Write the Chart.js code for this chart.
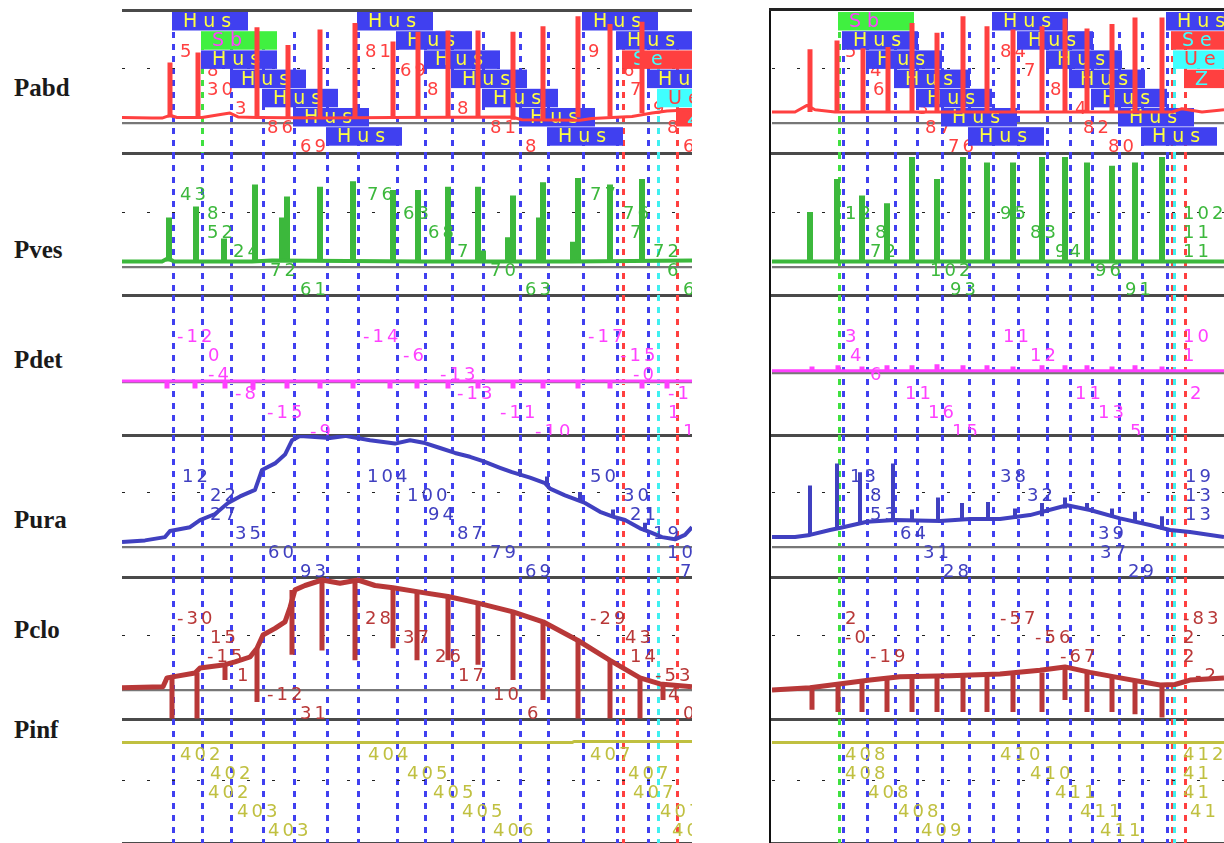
<!DOCTYPE html>
<html><head><meta charset="utf-8">
<script src="https://cdn.jsdelivr.net/npm/chart.js@4.4.1/dist/chart.umd.min.js"></script>
<style>
html,body{margin:0;padding:0;background:#fff}
body{width:1224px;height:843px;position:relative;overflow:hidden}
canvas{position:absolute;z-index:2}
.nm{position:absolute;left:14px;font:bold 25px "Liberation Serif","DejaVu Serif",serif;color:#1a1a1a;line-height:30px;z-index:3}
.hl{position:absolute;background:#4a4a4a;z-index:1}
</style></head><body>
<script>
// ================= DATA =================
const channelNames = ["Pabd","Pves","Pdet","Pura","Pclo","Pinf"];

// ---- event marks (time in samples) ----
const evL_T    = [51,80,80,109,141,172,205,236,275,303,330,361,398,426,461,495,501,526,536,555];
const evL_Type = ["Hus","Sb","Hus","Hus","Hus","Hus","Hus","Hus","Hus","Hus","Hus","Hus","Hus","Hus","Hus","Hus","Se","Hus","Ue","Z"];
const evR_T    = [67,71,95,123,145,170,197,221,246,275,298,320,347,370,395,400,402,413];
const evR_Type = ["Sb","Hus","Hus","Hus","Hus","Hus","Hus","Hus","Hus","Hus","Hus","Hus","Hus","Hus","Hus","Se","Ue","Z"];

// ---- LEFT record ----
const pabdL_t  = [0,30,40,48,55,80,100,108,116,135,200,270,390,400,458,470,490,510,530,545,570];
const pabdL_v  = [5,4.5,4.5,7,5,5,8,9,5.5,5,4.5,5,5.5,3,2.5,4,5,6,9,11,12];
const pabdL_sT = [48,76,135,166,198,233,271,296,326,356,391,421,456,488,520];
const pabdL_sLo= [5,5,5,5,5,5,5,5,5,5,3,3,5,6,9];
const pabdL_sHi= [55,64,87,71,85,91,74,83,84,84,83,88,97,90,92];
const pabdL_lab= [["5",58,0],["8",85,1],["30",85,2],["3",113,3],["86",145,4],["69",178,5],
                  ["81",243,0],["69",278,1],["8",305,2],["8",335,3],["81",368,4],["8",403,5],
                  ["9",466,0],["6",501,1],["7",508,2],["9",531,3],["8",545,4],["6",561,5]];

const pvesL_t  = [0,40,46,52,130,150,300,450,570];
const pvesL_v  = [5,5,8,5,5,6,5,5,6];
const pvesL_sT = [47,74,102,133,165,198,231,271,296,326,356,391,421,456,488,520];
const pvesL_sLo= [5,5,5,5,5,5,5,5,5,5,5,5,5,5,5,5];
const pvesL_sHi= [45,55,26,75,64,73,78,70,70,73,73,65,77,81,75,80];
const pvesL_shT= [161,360,387,418,452];
const pvesL_shHi=[45,15,27,45,23];
const pvesL_lab= [["43",58,0],["8",85,1],["52",85,2],["24",111,3],["72",148,4],["61",178,5],
                  ["76",245,0],["63",281,1],["68",306,2],["7",335,3],["70",368,4],["63",403,5],
                  ["77",468,0],["76",501,1],["7",508,2],["72",531,3],["6",545,4],["6",561,5]];

const pdetL_t  = [0,570];
const pdetL_v  = [1,1];
const pdetL_sT = [45,73,103,131,165,198,231,268,295,326,356,391,421,456,488,520,545];
const pdetL_sLo= [-6,-6,-6,-7,-6,-6,-6,-6,-6,-6,-6,-6,-6,-6,-6,-6,-6];
const pdetL_sHi= [1,1,1,1,1,1,1,1,1,1,1,1,1,1,1,1,1];
const pdetL_lab= [["-12",55,0],["0",86,1],["-4",86,2],["-8",113,3],["-15",145,4],["-9",188,5],
                  ["-14",241,0],["-6",281,1],["-13",318,2],["-13",335,3],["-11",378,4],["-10",413,5],
                  ["-17",466,0],["-15",498,1],["-0",511,2],["-12",546,3],["1",546,4],["1",561,5]];

const puraL_t  = [0,23,43,48,68,78,93,106,118,133,140,153,163,170,178,208,223,248,273,288,303,318,333,348,361,378,390,408,423,428,443,453,463,478,493,503,518,528,540,553,563,570];
const puraL_v  = [4.5,6,9,14.5,18,24.5,30,40,46,52,70,76,84,97,101,99,101,97,94,97,94.5,90,85.5,82,78,72,68,63,58,53,47,43.6,40,32,27,24.5,17,13.6,9,7,11,18];
const puraL_sT = [398,425,458,491,523];
const puraL_sLo= [66,58,42,27,14];
const puraL_sHi= [71,64,50,34,22];
const puraL_lab= [["12",60,0],["22",88,1],["27",88,2],["35",113,3],["60",146,4],["93",178,5],
                  ["104",245,0],["100",285,1],["94",306,2],["87",335,3],["79",368,4],["69",403,5],
                  ["50",468,0],["30",501,1],["21",508,2],["19",531,3],["10",545,4],["7",558,5]];

const pcloL_t  = [0,41,45,73,78,103,113,128,135,141,153,163,168,173,183,200,218,236,253,271,298,326,356,391,421,456,488,518,538,570];
const pcloL_v  = [2,3,11,15.5,20,23,25.5,30,38,50,56,62,75,91,95,100,97,100,95,93,89,85,79,71,62,45,27,11,5.5,3];
const pcloL_sT = [50,75,103,135,170,200,233,271,295,326,356,391,421,456,488,518,541];
const pcloL_sLo= [-26,-26,9,-11,32,36,27,38,27,27,23,9,-9,-26,-26,-26,-9];
const pcloL_sHi= [11,16,23,38,91,100,100,93,89,85,79,71,62,45,27,11,5];
const pcloL_lab= [["-30",55,0],["15",88,1],["-15",85,2],["1",115,3],["-12",145,4],["31",178,5],
                  ["28",243,0],["37",281,1],["26",313,2],["17",336,3],["10",371,4],["6",405,5],
                  ["-29",468,0],["43",503,1],["14",508,2],["-53",533,3],["4",546,4],["0",561,5]];

const pinfL_t  = [0,450,452,570];
const pinfL_v  = [34,34,35,35];
const pinfL_lab= [["402",58,0],["402",88,1],["402",86,2],["403",115,3],["403",146,4],
                  ["404",246,0],["405",285,1],["405",311,2],["405",340,3],["406",371,4],
                  ["407",468,0],["407",506,1],["407",511,2],["407",538,3],["40",550,4]];

// ---- RIGHT record ----
const pabdR_t  = [0,23,35,43,63,400,410,430,452];
const pabdR_v  = [10,10,16,12,10,10,13,10,12];
const pabdR_sT = [38,65,91,116,140,165,191,215,241,270,293,315,340,363,390];
const pabdR_sLo= [10,10,10,10,10,10,10,10,10,10,10,10,10,10,10];
const pabdR_sHi= [67,75,68,69,91,82,97,88,85,88,95,86,90,96,96];
const pabdR_lab= [["5",73,0],["4",98,1],["6",101,2],["3",145,3],["87",153,4],["76",176,5],
                  ["84",228,0],["7",252,1],["8",278,2],["4",303,3],["82",311,4],["80",336,5]];

const pvesR_t  = [0,452];
const pvesR_v  = [5,5];
const pvesR_sT = [38,65,90,115,140,165,191,215,241,270,293,315,340,363,390];
const pvesR_sLo= [5,5,5,5,5,5,5,5,5,5,5,5,5,5,5];
const pvesR_sHi= [50,80,65,58,100,80,100,95,95,100,100,95,92,95,100];
const pvesR_lab= [["12",73,1],["8",103,2],["72",98,3],["102",158,4],["93",178,5],
                  ["95",228,1],["83",258,2],["94",283,3],["96",323,4],["91",353,5],
                  ["102",411,1],["11",411,2],["11",411,3]];

const pdetR_t  = [0,452];
const pdetR_v  = [2,2];
const pdetR_sT = [40,66,90,115,140,165,191,215,241,270,293,315,340,363,390];
const pdetR_sLo= [2,2,2,2,2,2,2,2,2,2,2,2,2,2,2];
const pdetR_sHi= [6,7,6,7,7,8,7,7,6,7,7,7,6,7,6];
const pdetR_lab= [["3",73,0],["4",78,1],["6",98,2],["11",133,3],["16",156,4],["15",180,5],
                  ["11",231,0],["12",258,1],["11",303,3],["13",326,4],["5",358,5],
                  ["10",411,0],["1",411,1],["2",418,3]];

const puraR_t  = [0,23,38,58,71,95,123,168,198,228,258,295,318,348,378,398,418,452];
const puraR_v  = [9,9,11,15.5,18,23,24.5,23.6,25.5,25.5,29,38,33.6,26,20,15.5,13.6,9];
const puraR_sT = [38,65,88,121,140,166,190,216,243,270,293,315,340,363,390];
const puraR_sLo= [11,17,22,24.5,24,23.6,25,25,25.5,28,35,33,27,22,16];
const puraR_sHi= [56,76,68,76,34,45,40,41,35,40,45,40,35,32,28];
const puraR_lab= [["13",78,0],["8",98,1],["53",98,2],["64",128,3],["31",151,4],["28",171,5],
                  ["38",228,0],["32",255,1],["39",326,3],["37",328,4],["29",356,5],
                  ["19",413,0],["13",413,1],["13",413,2]];

const pcloR_t  = [0,38,71,98,128,178,228,268,293,318,348,388,403,418,452];
const pcloR_v  = [0,2,6,9,12,13,14.5,18,21,16,11,4.5,5,9,11];
const pcloR_sT = [40,66,90,115,140,165,191,215,241,270,293,315,340,363,390];
const pcloR_sLo= [-18,-20,-20,-20,-20,-20,-20,-20,-20,-20,-9,-20,-20,-22,-25];
const pcloR_sHi= [2,5,9,10,12,12,13,13,14,16,21,17,12,9,4.5];
const pcloR_lab= [["2",73,0],["-0",73,1],["-19",98,2],["-57",228,0],["-56",263,1],["-67",288,2],
                  ["-83",411,0],["2",411,1],["2",411,2],["-2",423,3]];

const pinfR_t  = [0,452];
const pinfR_v  = [34,34];
const pinfR_lab= [["408",73,0],["408",73,1],["408",96,2],["408",126,3],["409",149,4],
                  ["410",228,0],["410",258,1],["411",283,2],["411",308,3],["411",328,4],
                  ["412",411,0],["41",411,1],["41",411,2],["41",418,3]];

// ================= LAYOUT / STYLE =================
const K = 1.1;                       // px per unit
const SEP = [10,153,295,435,577,719,843];
const NAME_Y = [88,250,360,520,630,730];
const STY = [
  {color:'#ff4040', tw:3, sw:5, ref:50,  zero:true,  boxes:true, row0:42},
  {color:'#3cb83c', tw:4, sw:6, ref:50,  zero:true,  row0:42},
  {color:'#ff40ff', tw:3, sw:5, ref:null,zero:true,  row0:42},
  {color:'#4040c0', tw:4, sw:4, ref:50,  zero:true,  row0:42},
  {color:'#b83838', tw:5, sw:5, ref:50,  zero:true,  row0:42},
  {color:'#c0c040', tw:3, sw:3, ref:0,   zero:false, row0:36}
];
const EVCOL = {Hus:'#4040f0', Sb:'#40e040', Se:'#ff4040', Ue:'#40f0f0', Z:'#ff4040'};
const BOX = {Hus:['#4040f0','#ffff40'], Sb:['#40f040','#ff40ff'], Se:['#ff4040','#40ffff'], Ue:['#40ffff','#ff4040'], Z:['#ff4040','#40ffff']};

const panels = [
  {x0:122, x1:692, tmax:570, evT:evL_T, evType:evL_Type, zeroPx:[123,267,382,547,690,780],
   ch:[[pabdL_t,pabdL_v,pabdL_sT,pabdL_sLo,pabdL_sHi,pabdL_lab],
       [pvesL_t,pvesL_v,pvesL_sT,pvesL_sLo,pvesL_sHi,pvesL_lab,pvesL_shT,pvesL_shHi],
       [pdetL_t,pdetL_v,pdetL_sT,pdetL_sLo,pdetL_sHi,pdetL_lab],
       [puraL_t,puraL_v,puraL_sT,puraL_sLo,puraL_sHi,puraL_lab],
       [pcloL_t,pcloL_v,pcloL_sT,pcloL_sLo,pcloL_sHi,pcloL_lab],
       [pinfL_t,pinfL_v,null,null,null,pinfL_lab]]},
  {x0:772, x1:1224, tmax:452, evT:evR_T, evType:evR_Type, zeroPx:[123,267,373,547,690,780],
   ch:[[pabdR_t,pabdR_v,pabdR_sT,pabdR_sLo,pabdR_sHi,pabdR_lab],
       [pvesR_t,pvesR_v,pvesR_sT,pvesR_sLo,pvesR_sHi,pvesR_lab],
       [pdetR_t,pdetR_v,pdetR_sT,pdetR_sLo,pdetR_sHi,pdetR_lab],
       [puraR_t,puraR_v,puraR_sT,puraR_sLo,puraR_sHi,puraR_lab],
       [pcloR_t,pcloR_v,pcloR_sT,pcloR_sLo,pcloR_sHi,pcloR_lab],
       [pinfR_t,pinfR_v,null,null,null,pinfR_lab]]}
];

// ---------- page furniture ----------
function div(cls, css){const d=document.createElement('div');d.className=cls;Object.assign(d.style,css);document.body.appendChild(d);return d;}
channelNames.forEach((n,i)=>{const d=div('nm',{top:(NAME_Y[i]-15)+'px'});d.textContent=n;});
SEP.forEach(y=>div('hl',{left:'122px',width:'570px',top:(y-1)+'px',height:'3px'}));
div('hl',{left:'769px',width:'2px',top:'8px',height:'835px',background:'#111'});
div('hl',{left:'769px',width:'455px',top:'8px',height:'3px',background:'#222'});
SEP.slice(1).forEach(y=>div('hl',{left:'771px',width:'453px',top:(y-1)+'px',height:'3px'}));

// ---------- plugin: grid lines, event marks, labels, event boxes ----------
const decor = {
  id:'decor',
  beforeDatasetsDraw(chart, args, o){
    const {ctx, chartArea:a, scales:{x, y}} = chart;
    ctx.save();
    const rank = typ => typ==='Hus' ? 1 : (typ==='Sb' && !o.boxes ? 0 : 2);
    const order = o.evT.map((t,i)=>i).sort((i,j)=>rank(o.evType[i])-rank(o.evType[j]));
    ctx.lineWidth = 3; ctx.setLineDash([6,6]);
    order.forEach(i=>{
      const px = Math.round(x.getPixelForValue(o.evT[i]))+0.5;
      ctx.strokeStyle = EVCOL[o.evType[i]];
      ctx.beginPath(); ctx.moveTo(px, o.boxes ? 22 : 0); ctx.lineTo(px, a.bottom); ctx.stroke();
    });
    if (o.ref !== null) {
      const py = Math.round(y.getPixelForValue(o.ref))+0.5;
      ctx.strokeStyle = '#222'; ctx.lineWidth = 1.2; ctx.setLineDash([3,22]);
      ctx.beginPath(); ctx.moveTo(a.left, py); ctx.lineTo(a.right, py); ctx.stroke();
    }
    if (o.zero) {
      const py = Math.round(y.getPixelForValue(0));
      ctx.setLineDash([]); ctx.fillStyle = '#777';
      ctx.fillRect(a.left, py-1, a.right-a.left, 2);
      ctx.fillStyle = '#ddd'; ctx.fillRect(a.left, py+1, a.right-a.left, 1);
    }
    ctx.setLineDash([]);
    ctx.font = '18px "DejaVu Sans", sans-serif';
    if ('letterSpacing' in ctx) ctx.letterSpacing = '3px';
    ctx.textBaseline = 'middle'; ctx.fillStyle = o.color;
    o.labels.forEach(([s,t,r])=>{ ctx.fillText(s, x.getPixelForValue(t), o.row0 + r*19); });
    if (o.boxes) {
      ctx.font = '19px "DejaVu Sans", sans-serif';
      if ('letterSpacing' in ctx) ctx.letterSpacing = '6px';
      o.evT.forEach((t,i)=>{
        const typ = o.evType[i], r = i % 7, px = x.getPixelForValue(t);
        const top = 2 + r*19.2;
        ctx.fillStyle = BOX[typ][0]; ctx.fillRect(px-1, top, 76, 18.5);
        ctx.fillStyle = BOX[typ][1]; ctx.fillText(typ, px+10, top+10);
      });
    }
    ctx.restore();
  }
};

function pts(T,V){return T.map((t,i)=>({x:t,y:V[i]}));}
function spikePts(T,lo,hi){const p=[];T.forEach((t,i)=>{p.push({x:t,y:lo[i]},{x:t,y:hi[i]},{x:t,y:null});});return p;}

panels.forEach(P=>{
  P.ch.forEach((c,ci)=>{
    const st = STY[ci];
    const top = SEP[ci], bot = SEP[ci+1], h = bot-top, w = P.x1-P.x0, zp = P.zeroPx[ci];
    const cv = document.createElement('canvas');
    cv.width = w; cv.height = h;
    Object.assign(cv.style,{left:P.x0+'px',top:top+'px',width:w+'px',height:h+'px'});
    document.body.appendChild(cv);
    const ds = [{data:pts(c[0],c[1]), borderColor:st.color, borderWidth:st.tw, pointRadius:0, tension:0, borderJoinStyle:'round'}];
    if (c[2]) ds.push({data:spikePts(c[2],c[3],c[4]), borderColor:st.color, borderWidth:st.sw, pointRadius:0, spanGaps:false, borderCapStyle:'butt'});
    if (c[6]) ds.push({data:spikePts(c[6],c[6].map(()=>c[1][0]),c[7]), borderColor:st.color, borderWidth:8, pointRadius:0, spanGaps:false, borderCapStyle:'butt'});
    new Chart(cv,{
      type:'line',
      data:{datasets:ds},
      options:{
        responsive:false, animation:false, devicePixelRatio:1, events:[],
        layout:{padding:0},
        scales:{
          x:{type:'linear', min:0, max:P.tmax, display:false},
          y:{type:'linear', min:-(bot-zp)/K, max:(zp-top)/K, display:false}
        },
        plugins:{legend:{display:false}, tooltip:{enabled:false},
          decor:{evT:P.evT, evType:P.evType, ref:st.ref, zero:st.zero, boxes:!!st.boxes, labels:c[5], color:st.color, row0:st.row0}}
      },
      plugins:[decor]
    });
  });
});
</script>
</body></html>
